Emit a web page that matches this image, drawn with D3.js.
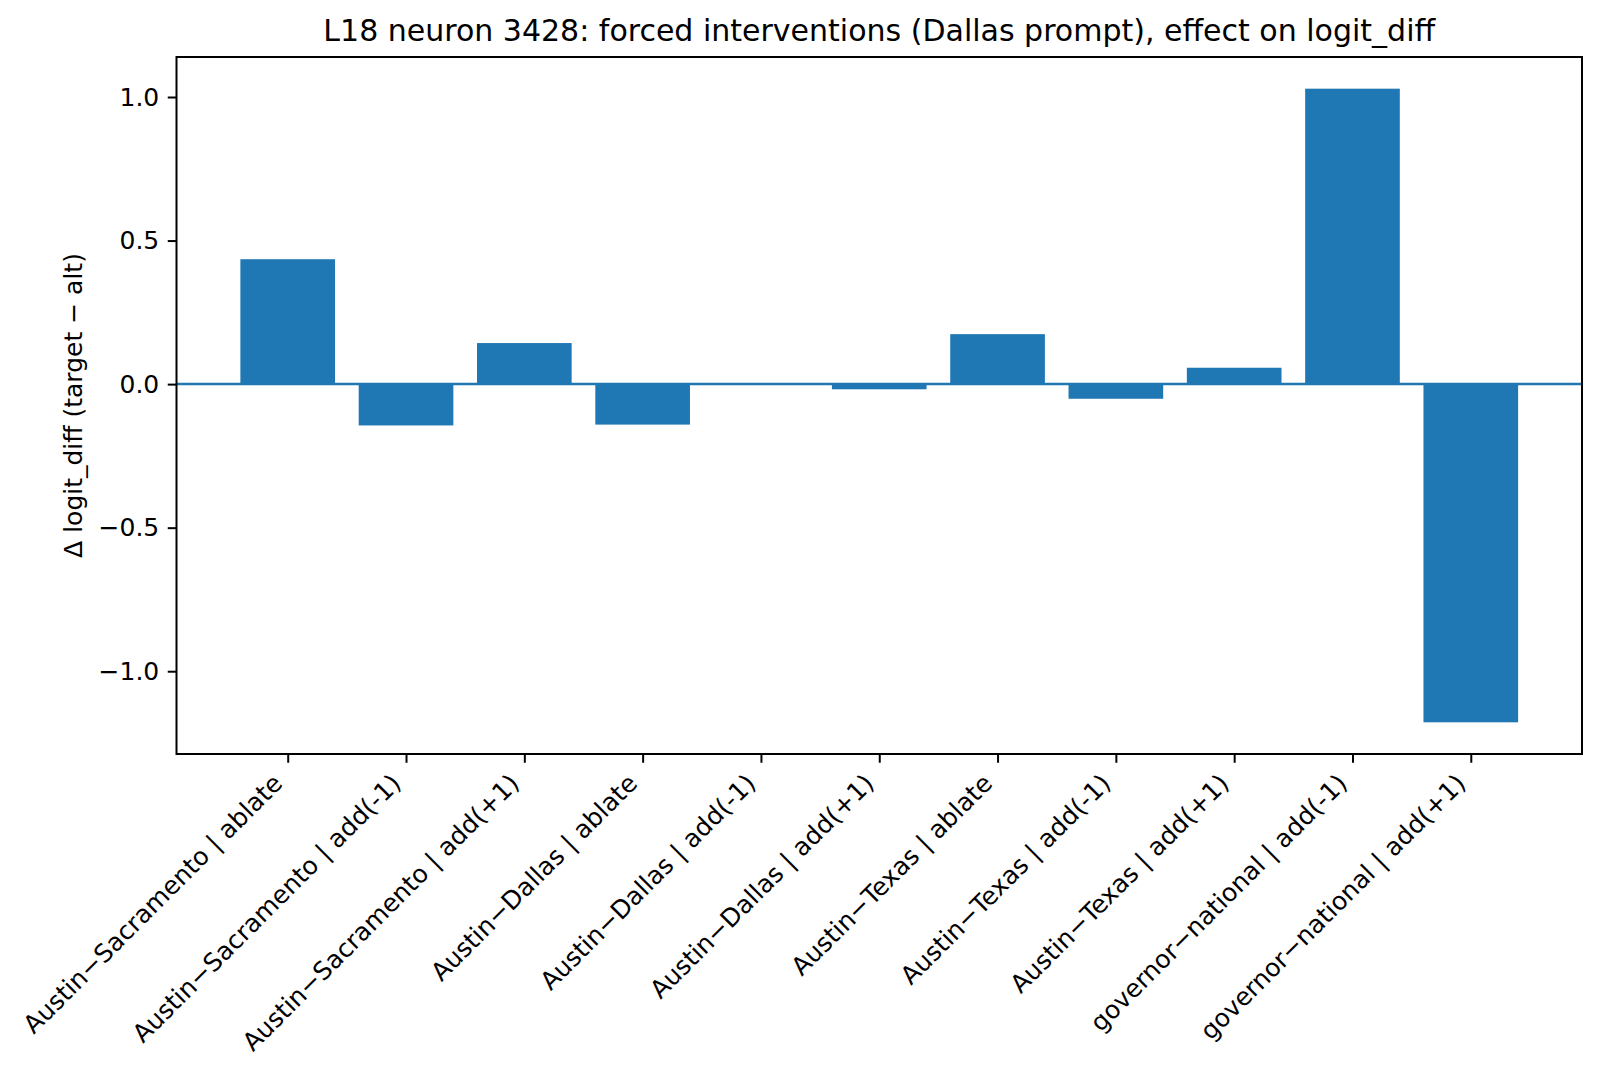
<!DOCTYPE html>
<html>
<head>
<meta charset="utf-8">
<script src="https://cdn.jsdelivr.net/npm/d3@7"></script>
<style>
  body { margin: 0; background: #fff; }
  text { font-family: "DejaVu Sans", sans-serif; fill: #000; }
</style>
</head>
<body>
<div id="chart"></div>
<script>
// chart data
var categories = [
    "Austin\u2212Sacramento | ablate",
    "Austin\u2212Sacramento | add(-1)",
    "Austin\u2212Sacramento | add(+1)",
    "Austin\u2212Dallas | ablate",
    "Austin\u2212Dallas | add(-1)",
    "Austin\u2212Dallas | add(+1)",
    "Austin\u2212Texas | ablate",
    "Austin\u2212Texas | add(-1)",
    "Austin\u2212Texas | add(+1)",
    "governor\u2212national | add(-1)",
    "governor\u2212national | add(+1)"
];
var deltas = [0.435, -0.144, 0.143, -0.141, -0.002, -0.018, 0.174, -0.051, 0.057, 1.029, -1.178];
var yTicks = [-1.0, -0.5, 0.0, 0.5, 1.0];
var title = "L18 neuron 3428: forced interventions (Dallas prompt), effect on logit_diff";
var yLabel = "\u0394 logit_diff (target \u2212 alt)";

var width = 1600, height = 1078;
var margin = {left: 176.5, right: 1600 - 1582, top: 57, bottom: 1078 - 754};
var barColor = "#1f77b4";
var fs = 25; // tick label font size

var svg = d3.select("#chart").append("svg")
    .attr("width", width)
    .attr("height", height);

// matplotlib style 5% margins around the bars
var barW = 0.8;
var xLo = -barW / 2, xHi = categories.length - 1 + barW / 2;
var xPad = (xHi - xLo) * 0.05;
var x = d3.scaleLinear()
    .domain([xLo - xPad, xHi + xPad])
    .range([margin.left, width - margin.right]);

var yMin = d3.min(deltas), yMax = d3.max(deltas);
var yPad = (yMax - yMin) * 0.05;
var y = d3.scaleLinear()
    .domain([yMin - yPad, yMax + yPad])
    .range([height - margin.bottom, margin.top]);

// bars
svg.selectAll("rect.bar")
    .data(deltas)
    .enter().append("rect")
    .attr("class", "bar")
    .attr("x", (d, i) => x(i - barW / 2))
    .attr("width", (d, i) => x(i + barW / 2) - x(i - barW / 2))
    .attr("y", d => y(Math.max(0, d)))
    .attr("height", d => Math.abs(y(d) - y(0)))
    .style("fill", barColor);

// zero line
svg.append("line")
    .attr("x1", margin.left).attr("x2", width - margin.right)
    .attr("y1", y(0)).attr("y2", y(0))
    .style("stroke", barColor)
    .style("stroke-width", 2.5);

// y axis
var fmt = d => d3.format(".1f")(d).replace("-", "\u2212");
var yAxis = svg.append("g")
    .attr("transform", `translate(${margin.left},0)`)
    .call(d3.axisLeft(y).tickValues(yTicks).tickFormat(fmt).tickSize(8.75).tickPadding(8.5));

// x axis
var xAxis = svg.append("g")
    .attr("transform", `translate(0,${height - margin.bottom})`)
    .call(d3.axisBottom(x).tickValues(d3.range(categories.length)).tickFormat(i => categories[i]).tickSize(8.75).tickPadding(0));

[yAxis, xAxis].forEach(function (g) {
    g.select(".domain").remove();
    g.selectAll(".tick line").style("stroke", "#000").style("stroke-width", 2);
    g.selectAll("text").style("font-size", fs + "px").style("font-family", "DejaVu Sans");
});

// rotate x labels 45deg, right aligned at the tick
xAxis.selectAll(".tick text")
    .attr("y", 0).attr("dy", null)
    .style("text-anchor", "end")
    .attr("transform", `translate(${-0.707 * 0.24 * fs},${17.5 + 0.707 * 0.76 * fs}) rotate(-45)`);

// frame
svg.append("rect")
    .attr("x", margin.left).attr("y", margin.top)
    .attr("width", width - margin.right - margin.left)
    .attr("height", height - margin.bottom - margin.top)
    .style("fill", "none")
    .style("stroke", "#000")
    .style("stroke-width", 2);

// title
svg.append("text")
    .attr("x", (margin.left + width - margin.right) / 2)
    .attr("y", 41)
    .style("text-anchor", "middle")
    .style("font-size", "30px")
    .text(title);

// y label
svg.append("text")
    .attr("transform", `translate(82,${(margin.top + height - margin.bottom) / 2}) rotate(-90)`)
    .style("text-anchor", "middle")
    .style("font-size", fs + "px")
    .text(yLabel);
</script>
</body>
</html>
